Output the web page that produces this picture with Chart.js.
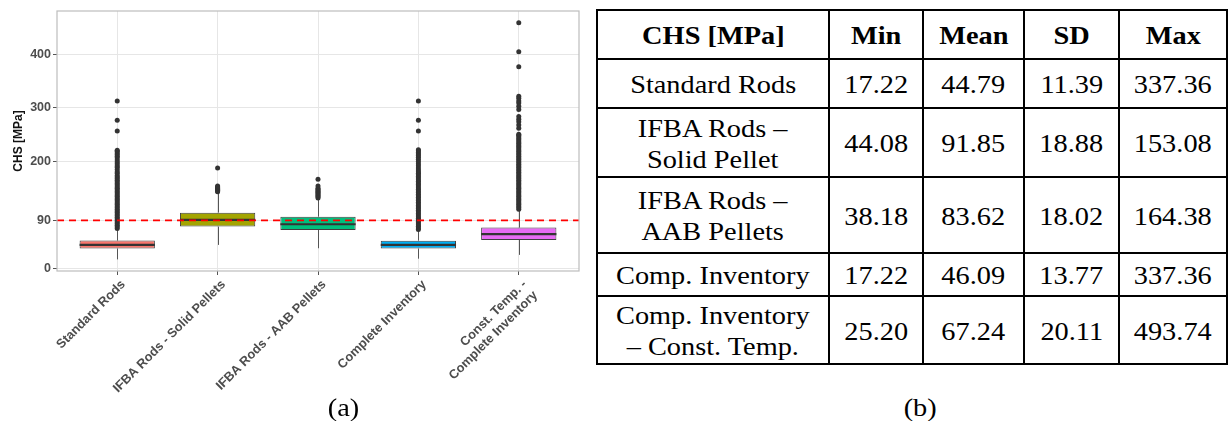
<!DOCTYPE html>
<html>
<head>
<meta charset="utf-8">
<script src="https://cdn.jsdelivr.net/npm/chart.js@4.4.1/dist/chart.umd.min.js"></script>
<style>
  html, body { margin:0; padding:0; background:#fff; width:1229px; height:421px; overflow:hidden; }
  #chartWrap { position:absolute; left:0; top:0; width:590px; height:395px; }
  .cap { position:absolute; width:100px; text-align:center; font-family:'Liberation Serif','Times New Roman',serif; font-size:26px; line-height:30px; color:#000; }
  .cap span, .cell span { display:inline-block; transform:scaleX(1.09); }
  .cell { position:absolute; display:flex; align-items:center; justify-content:center; text-align:center;
          font-family:'Liberation Serif','Times New Roman',serif; font-size:26px; line-height:31px; color:#000; padding-top:2px; box-sizing:border-box; }
  .cell.head { font-weight:bold; }
  .ln { position:absolute; background:#000; }
</style>
</head>
<body>
<div id="chartWrap"><canvas id="c" width="590" height="395"></canvas></div>
<div class="cap" style="left:293px; top:393px;"><span>(a)</span></div>
<div class="cap" style="left:870px; top:393px;"><span>(b)</span></div>
<div id="table"></div>
<script>
// ---------------- data: box plot ----------------
const categories = ['Standard Rods', 'IFBA Rods - Solid Pellets', 'IFBA Rods - AAB Pellets', 'Complete Inventory', ['Const. Temp. -', 'Complete Inventory']];
const whiskerLow  = [17.2, 44.2, 38.0, 18.5, 25.6];
const q1          = [37.4, 78.4, 72.2, 37.3, 53.5];
const median      = [44.3, 90.9, 82.8, 44.2, 64.2];
const q3          = [52.3, 104.5, 97.0, 52.2, 76.5];
const whiskerHigh = [74.5, 141.0, 131.0, 72.0, 109.0];
const outStandard = [75, 78, 81, 84, 87, 90, 93, 96, 99, 102, 105, 108, 111, 114, 117, 120, 123, 126, 129, 132, 135, 138, 141, 144, 147, 150, 153, 156, 159, 162, 165, 168, 171, 174,
                     178, 181, 185, 189, 192, 196, 199, 203, 207, 210, 213, 216, 219, 221, 257, 277, 313];
const outSolid    = [143.5, 145, 146.5, 148, 149.5, 151, 152.5, 154, 188];
const outAAB      = [132, 134, 136, 138, 140, 142, 144, 146, 148, 150, 154, 167];
const outComplete = [73, 76, 79, 82, 85, 88, 91, 94, 97, 100, 103, 106, 109, 112, 115, 118, 121, 124, 127, 130, 133, 136, 139, 142, 145, 148, 151, 154, 157, 160, 163, 166, 169, 172, 175,
                     178, 181, 184, 188, 192, 196, 200, 204, 208, 211, 214, 217, 220, 222, 257, 277, 313];
const outConst    = [111, 114, 117, 120, 123, 126, 129, 132, 135, 138, 141, 144, 147, 150, 153, 156, 159, 162, 165, 168, 171, 174, 177, 180, 183, 186, 189, 192, 195, 198,
                     201, 204, 207, 210, 213, 216, 219, 222, 225, 228, 231, 234, 237, 240, 243, 246, 249, 251,
                     262, 268, 274, 279, 284, 297, 303, 309, 313, 318, 322, 377, 405, 459];
const outliers = [outStandard, outSolid, outAAB, outComplete, outConst];
const yTicks = [0, 90, 200, 300, 400];
const refLine = 90;

// ---------------- data: table ----------------
const tableHeader = ['CHS [MPa]', 'Min', 'Mean', 'SD', 'Max'];
const tableNames = [['Standard Rods'], ['IFBA Rods –', 'Solid Pellet'], ['IFBA Rods –', 'AAB Pellets'], ['Comp. Inventory'], ['Comp. Inventory', '– Const. Temp.']];
const tableMin  = [17.22, 44.08, 38.18, 17.22, 25.20];
const tableMean = [44.79, 91.85, 83.62, 46.09, 67.24];
const tableSD   = [11.39, 18.88, 18.02, 13.77, 20.11];
const tableMax  = [337.36, 153.08, 164.38, 337.36, 493.74];

// ---------------- styles ----------------
const boxColors = ['#F8766D', '#A3A500', '#00BF7D', '#00B0F6', '#E76BF3'];

// ---------------- table (HTML) ----------------
(function buildTable() {
  const rowEdges = [10, 59, 108, 177, 253, 296, 364];
  const colEdges = [597, 829, 923, 1024, 1119, 1227];
  const host = document.getElementById('table');
  const rows = [tableHeader.map(t => [t])];
  tableNames.forEach((n, i) => rows.push([n, [tableMin[i].toFixed(2)], [tableMean[i].toFixed(2)], [tableSD[i].toFixed(2)], [tableMax[i].toFixed(2)]]));
  rows.forEach((r, ri) => r.forEach((lines, ci) => {
    const d = document.createElement('div');
    d.className = 'cell' + (ri === 0 ? ' head' : '');
    d.style.left = colEdges[ci] + 'px'; d.style.top = rowEdges[ri] + 'px';
    d.style.width = (colEdges[ci + 1] - colEdges[ci]) + 'px'; d.style.height = (rowEdges[ri + 1] - rowEdges[ri]) + 'px';
    d.innerHTML = '<span>' + lines.join('<br>') + '</span>';
    host.appendChild(d);
  }));
  rowEdges.forEach(y => { const l = document.createElement('div'); l.className = 'ln';
    l.style.left = (colEdges[0] - 1) + 'px'; l.style.top = (y - 1) + 'px';
    l.style.width = (colEdges[colEdges.length - 1] - colEdges[0] + 2) + 'px'; l.style.height = '2px'; host.appendChild(l); });
  colEdges.forEach(x => { const l = document.createElement('div'); l.className = 'ln';
    l.style.left = (x - 1) + 'px'; l.style.top = (rowEdges[0] - 1) + 'px';
    l.style.width = '2px'; l.style.height = (rowEdges[rowEdges.length - 1] - rowEdges[0] + 2) + 'px'; host.appendChild(l); });
})();

// ---------------- chart ----------------
const boxExtras = {
  id: 'boxExtras',
  beforeDatasetDraw(chart, args) {
    if (args.index !== 0) return;
    const { ctx, scales: { x, y } } = chart;
    ctx.save();
    ctx.strokeStyle = '#555555'; ctx.lineWidth = 1;
    categories.forEach((c, i) => {
      const px = Math.round(x.getPixelForValue(i + 1)) + 0.5;
      ctx.beginPath();
      ctx.moveTo(px, y.getPixelForValue(whiskerLow[i])); ctx.lineTo(px, y.getPixelForValue(q1[i]));
      ctx.moveTo(px, y.getPixelForValue(q3[i])); ctx.lineTo(px, y.getPixelForValue(whiskerHigh[i]));
      ctx.stroke();
    });
    ctx.restore();
  },
  afterDatasetDraw(chart, args) {
    if (args.index !== 0) return;
    const { ctx, scales: { y } } = chart;
    const meta = chart.getDatasetMeta(0);
    ctx.save();
    ctx.strokeStyle = '#333333'; ctx.lineWidth = 2.2;
    meta.data.forEach((el, i) => {
      const py = y.getPixelForValue(median[i]);
      ctx.beginPath(); ctx.moveTo(el.x - el.width / 2, py); ctx.lineTo(el.x + el.width / 2, py); ctx.stroke();
    });
    ctx.restore();
  },
  afterDatasetsDraw(chart) {
    const { ctx, chartArea: a } = chart;
    ctx.save();
    ctx.strokeStyle = '#BDBDBD'; ctx.lineWidth = 1.2;
    ctx.strokeRect(a.left, a.top, a.right - a.left, a.bottom - a.top);
    ctx.restore();
  }
};

const xFont = { family: "'Liberation Sans', Arial, sans-serif", size: 12.8, weight: 'bold' };
const yFont = { family: "'Liberation Sans', Arial, sans-serif", size: 12.5, weight: 'bold' };

new Chart(document.getElementById('c'), {
  type: 'bar',
  data: {
    datasets: [
      {
        type: 'bar', order: 2,
        data: categories.map((c, i) => ({ x: i + 1, y: [q1[i], q3[i]] })),
        backgroundColor: boxColors, borderColor: '#404040', borderWidth: 1, borderSkipped: false,
        barPercentage: 0.75, categoryPercentage: 1, grouped: false
      },
      {
        type: 'scatter', order: 1,
        data: outliers.flatMap((arr, i) => arr.map(v => ({ x: i + 1, y: v }))),
        pointRadius: 2.5, pointBackgroundColor: '#333333', pointBorderWidth: 0, showLine: false
      },
      {
        type: 'line', order: 0,
        data: [{ x: 0.4, y: refLine }, { x: 5.6, y: refLine }],
        borderColor: '#FF0000', borderWidth: 1.6, borderDash: [7, 5], pointRadius: 0, fill: false
      }
    ]
  },
  options: {
    responsive: false, animation: false, devicePixelRatio: 1,
    layout: { padding: { left: 0, top: 11, right: 11, bottom: 0 } },
    plugins: { legend: { display: false }, tooltip: { enabled: false } },
    scales: {
      x: {
        type: 'linear', min: 0.4, max: 5.6, offset: false,
        afterBuildTicks: s => { s.ticks = categories.map((c, i) => ({ value: i + 1 })); },
        afterFit: s => { s.height = 124; },
        grid: { color: '#E6E6E6', lineWidth: 1, offset: false, drawTicks: true, tickLength: 4, tickColor: '#555555' },
        border: { display: false },
        ticks: { autoSkip: false, maxRotation: 45, minRotation: 45, padding: 2, labelOffset: 6, font: xFont, color: '#4D4D4D',
                 callback: v => categories[Math.round(v) - 1] }
      },
      y: {
        type: 'linear', min: -4.5, max: 481,
        afterBuildTicks: s => { s.ticks = yTicks.map(v => ({ value: v })); },
        afterFit: s => { s.width = 57; },
        grid: { color: '#E6E6E6', lineWidth: 1, drawTicks: true, tickLength: 4, tickColor: '#555555' },
        border: { display: false },
        ticks: { padding: 2, font: yFont, color: '#4D4D4D', callback: v => String(v) },
        title: { display: true, text: 'CHS [MPa]', color: '#111111', padding: { top: 11, bottom: 0 },
                 font: { family: "'Liberation Sans', Arial, sans-serif", size: 12, weight: 'bold' } }
      }
    }
  },
  plugins: [boxExtras]
});
</script>
</body>
</html>
